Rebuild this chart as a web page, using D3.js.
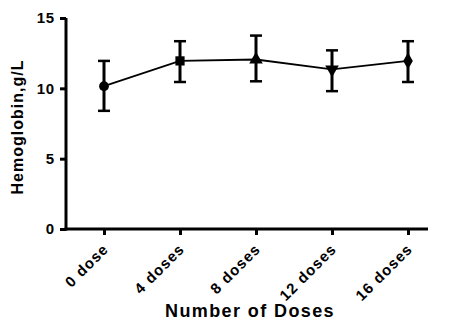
<!DOCTYPE html>
<html>
<head>
<meta charset="utf-8">
<script src="https://cdn.jsdelivr.net/npm/d3@7"></script>
<style>
  body { margin: 0; background: #fff; }
  text { font-family: "Liberation Sans", Arial, sans-serif; font-weight: bold; }
</style>
</head>
<body>
<script>
// data
var doses = ["0 dose", "4 doses", "8 doses", "12 doses", "16 doses"];
var means = [10.15, 11.95, 12.05, 11.35, 11.95];
var upper = [11.95, 13.35, 13.75, 12.7, 13.35];
var lower = [8.4, 10.45, 10.5, 9.8, 10.45];
var markers = [d3.symbolCircle, d3.symbolSquare, d3.symbolTriangle, "down", d3.symbolDiamond];
var yTicks = [0, 5, 10, 15];

var w_svg = 456, h_svg = 325;
var padLeft = 66, padRight = 428, padTop = 18, padBottom = 229;

var svg = d3.select("body").append("svg")
  .attr("width", w_svg)
  .attr("height", h_svg);

var xScale = d3.scalePoint().domain(doses).range([104, 408]);
var yScale = d3.scaleLinear().domain([0, 15]).range([padBottom, padTop]);

// y axis
var y_axis = d3.axisLeft(yScale).tickValues(yTicks).tickSize(6).tickSizeOuter(0);
var gy = svg.append("g").attr("transform", "translate(" + padLeft + ",0)").call(y_axis);
gy.select(".domain").attr("stroke-width", 3).attr("d", "M0," + (padBottom + 1.5) + "V" + padTop);
gy.selectAll(".tick line").attr("stroke-width", 3);
gy.selectAll(".tick text").attr("font-size", 15).attr("x", -11).attr("fill", "#000")
  .style("letter-spacing", "0.8px");

// x axis
var x_axis = d3.axisBottom(xScale).tickSize(6).tickSizeOuter(0);
var gx = svg.append("g").attr("transform", "translate(0," + padBottom + ")").call(x_axis);
gx.select(".domain").attr("stroke-width", 3).attr("d", "M" + (padLeft - 1.5) + ",0H" + padRight);
gx.selectAll(".tick line").attr("stroke-width", 3);
gx.selectAll(".tick text")
  .attr("font-size", 15)
  .attr("fill", "#000")
  .attr("text-anchor", "end")
  .attr("dy", null)
  .attr("y", 0)
  .style("letter-spacing", "1.1px")
  .attr("transform", "translate(5,21) rotate(-45)");

// axis titles
svg.append("text")
  .attr("text-anchor", "middle")
  .attr("font-size", 16)
  .style("letter-spacing", "1px")
  .attr("transform", "translate(23,127) rotate(-90)")
  .text("Hemoglobin,g/L");

svg.append("text")
  .attr("x", 250)
  .attr("y", 317)
  .attr("text-anchor", "middle")
  .attr("font-size", 18)
  .style("letter-spacing", "1.4px")
  .text("Number of Doses");

// connecting line
var line = d3.line()
  .x(function(d, i) { return xScale(doses[i]); })
  .y(function(d) { return yScale(d); });
svg.append("path")
  .datum(means)
  .attr("d", line)
  .attr("fill", "none")
  .attr("stroke", "#000")
  .attr("stroke-width", 1.8);

// error bars
var eb = svg.append("g").attr("stroke", "#000").attr("stroke-width", 3);
doses.forEach(function(d, i) {
  var x = xScale(d);
  eb.append("line").attr("x1", x).attr("x2", x).attr("y1", yScale(upper[i])).attr("y2", yScale(lower[i]));
  eb.append("line").attr("x1", x - 6).attr("x2", x + 6).attr("y1", yScale(upper[i])).attr("y2", yScale(upper[i])).attr("stroke-width", 2.5);
  eb.append("line").attr("x1", x - 6).attr("x2", x + 6).attr("y1", yScale(lower[i])).attr("y2", yScale(lower[i])).attr("stroke-width", 2.5);
});

// markers
var sizes = [75, 85, 80, 80, 80];
doses.forEach(function(d, i) {
  var m = markers[i];
  var rot = "";
  if (m === "down") { m = d3.symbolTriangle; rot = " rotate(180)"; }
  svg.append("path")
    .attr("d", d3.symbol().type(m).size(sizes[i])())
    .attr("transform", "translate(" + xScale(d) + "," + yScale(means[i]) + ")" + rot)
    .attr("fill", "#000");
});
</script>
</body>
</html>
